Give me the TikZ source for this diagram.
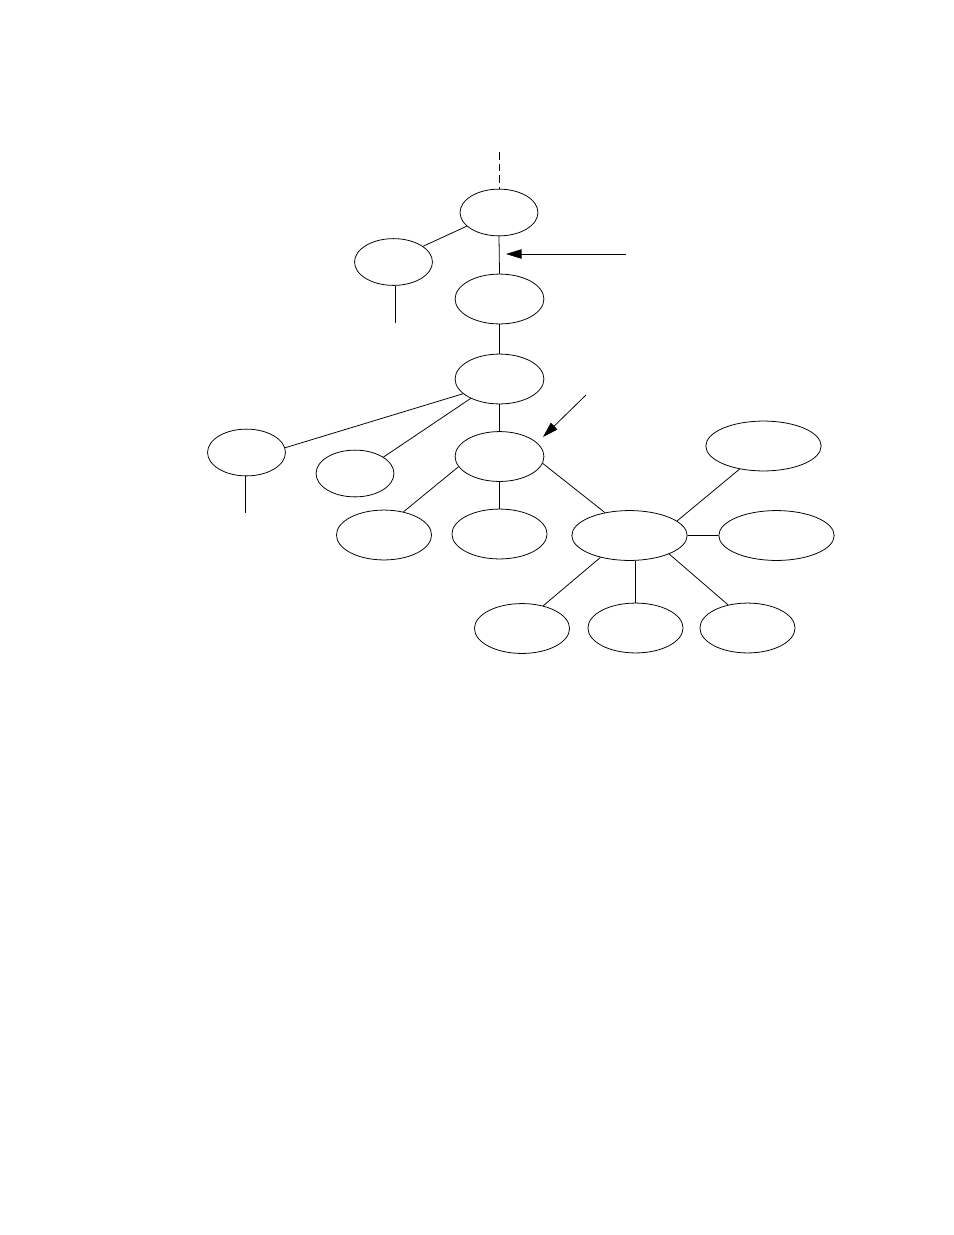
\documentclass[tikz,border=0pt]{standalone}
\usepackage{tikz}
\usetikzlibrary{arrows.meta, shapes}

\begin{document}
\begin{tikzpicture}[x=0.6415pt, y=-0.6415pt, line width=0.5pt, >={Triangle[length=10pt,width=6pt]}]
		\tikzstyle{bubble} = [draw, ellipse, inner sep=0pt, minimum width=50pt, minimum height=30pt]
		\tikzstyle{midbubble} = [bubble, minimum width=57pt, minimum height=32pt]
		\tikzstyle{lowbubble} = [bubble, minimum width=61pt, minimum height=32pt]
		\tikzstyle{widebubble} = [bubble, minimum width=74pt, minimum height=32pt]
			\useasboundingbox (0,0) rectangle (954,1235);
			% upper chain
			\node [bubble] (top) at (499,212.5) {};
			\node [bubble] (side) at (393.5,262) {};
			\node [midbubble] (mid) at (499.5,299) {};
			\node [midbubble] (hub) at (499.5,379) {};
			% second row
			\node [bubble] (far) at (246.5,452.5) {};
			\node [bubble] (near) at (355,473.5) {};
			\node [midbubble] (cur) at (499.5,456.5) {};
			\node [lowbubble] (kidA) at (384,535) {};
			\node [lowbubble] (kidB) at (499.5,534) {};
			\node [widebubble] (big) at (629.5,535.5) {};
			\node [widebubble] (upR) at (763.5,446) {};
			\node [widebubble] (sideR) at (776.5,535.5) {};
			% bottom row
			\node [lowbubble] (leafA) at (522,628.5) {};
			\node [lowbubble] (leafB) at (635.5,628) {};
			\node [lowbubble] (leafC) at (747.5,628) {};
			% loose ends
			\coordinate (up) at (499,152);
			\coordinate (sidestub) at (395,323);
			\coordinate (farstub) at (245,513);
			\coordinate (ptrA) at (626,254);
			\coordinate (ptrAtip) at (506,254);
			\coordinate (ptrB) at (586,395);
			\coordinate (ptrBtip) at (543,437);
			\path[draw,dash pattern=on 5pt off 2.5pt](up)--(top.north);
			\path[draw](side.28)--(top.203);
			\path[draw](sidestub |- side.south)--(sidestub);
			\path[draw](top.south)--(mid.north);
			\path[draw](mid.south)--(hub.north);
			\path[draw](far.7)--(hub.202);
			\path[draw](farstub |- far.south)--(farstub);
			\path[draw](near.30)--(hub.214);
			\path[draw](hub.south)--(cur.north);
			\path[draw](cur.194)--(kidA.50);
			\path[draw](cur.south)--(kidB.north);
			\path[draw](cur.351)--(big.137);
			\path[draw](big.17)--(upR.224);
			\path[draw](big.east)--(sideR.west);
			\path[draw](big.217)--(leafA.47);
			\path[draw](leafB.north)--(leafB.north |- big.south);
			\path[draw](big.335)--(leafC.130);
			\path[draw,->](ptrA)--(ptrAtip);
			\path[draw,->](ptrB)--(ptrBtip);
		\end{tikzpicture}
\end{document}
